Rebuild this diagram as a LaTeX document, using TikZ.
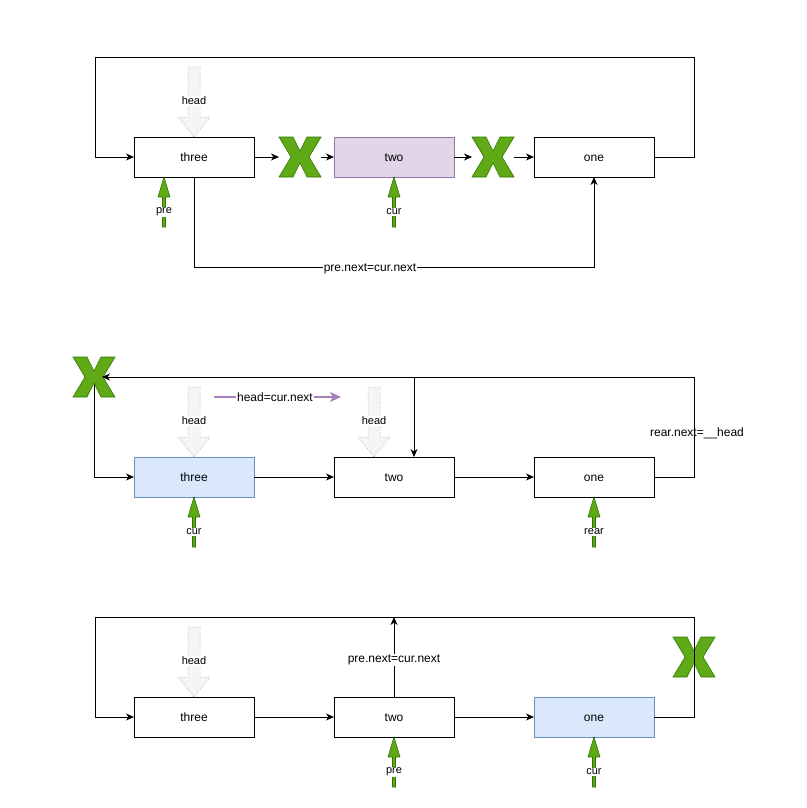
\documentclass[tikz,border=0pt]{standalone}
\usepackage{fontspec}
\setmainfont{Liberation Sans}
\usetikzlibrary{positioning}
\usetikzlibrary{arrows.meta}

\definecolor{xgreen}{HTML}{60A917}
\definecolor{xgreendark}{HTML}{2D7600}
\definecolor{nodepurple}{HTML}{E1D5E7}
\definecolor{linepurple}{HTML}{9673A6}
\definecolor{nodeblue}{HTML}{DAE8FC}
\definecolor{lineblue}{HTML}{6C8EBF}
\definecolor{ptrgray}{HTML}{F5F5F5}
\definecolor{ptrline}{HTML}{666666}
\definecolor{movepurple}{HTML}{A680B8}

\tikzset{
  box/.style={draw, line width=0.8pt, minimum width=120pt, minimum height=40pt,
    inner sep=0pt, outer sep=0pt, text height=10pt, text depth=2pt,
    font=\fontsize{12}{14}\selectfont},
  link/.style={line width=0.8pt, -{Stealth[length=8pt,width=7pt,inset=2.5pt]}},
  xspot/.style={minimum width=42pt, minimum height=40pt, inner sep=0pt, outer sep=0pt},
  cross/.style={fill=xgreen, draw=xgreendark, line width=0.6pt},
  tag/.style={fill=white, inner sep=1pt, font=\fontsize{11}{13}\selectfont},
  note/.style={inner sep=1pt, font=\fontsize{12}{14}\selectfont}
}

% green X over a node
\newcommand{\drawcross}[1]{%
  \begin{scope}[shift={(#1)}]
    \filldraw[cross] (-21,-20) -- (-7,-20) -- (0,-6) -- (7,-20) -- (21,-20)
      -- (9,0) -- (21,20) -- (7,20) -- (0,6) -- (-7,20) -- (-21,20) -- (-9,0) -- cycle;
  \end{scope}}

% dotted head pointer, tip at #1
\newcommand{\headptr}[2]{%
  \begin{scope}[shift={(#1)}]
    \filldraw[fill=ptrgray, draw=ptrline, dotted, line width=0.5pt]
      (0,0) -- (16,-20) -- (6,-20) -- (6,-70) -- (-6,-70) -- (-6,-20) -- (-16,-20) -- cycle;
    \node[tag] (#2) at (0,-36) {head};
  \end{scope}}

% green pointer, tip at #1
\newcommand{\greenptr}[3]{%
  \begin{scope}[shift={(#1)}]
    \filldraw[fill=xgreen, draw=xgreendark, line width=0.6pt]
      (0,0) -- (6,20) -- (1.5,20) -- (1.5,50) -- (-1.5,50) -- (-1.5,20) -- (-6,20) -- cycle;
    \node[tag] (#2) at (0,35) {#3};
  \end{scope}}

\begin{document}
\begin{tikzpicture}[x=1pt, y=-1pt, node distance=80pt]
  \useasboundingbox (0,0) rectangle (806,808);

  % first list: remove two
  \node[box] (threeA) at (194,157) {three};
  \node[box, fill=nodepurple, draw=linepurple] (twoA) [right=of threeA] {two};
  \node[box] (oneA) [right=of twoA] {one};
  \node[xspot] (xA1) at (300,157) {};
  \node[xspot] (xA2) at (493,157) {};
  \drawcross{xA1}
  \drawcross{xA2}
  \draw[link] (threeA) -- (xA1);
  \draw[link] (xA1) -- (twoA);
  \draw[link] (twoA) -- (xA2);
  \draw[link] (xA2) -- (oneA);
  \coordinate (cornerA) at (694,57);
  \draw[link] (oneA.east) -| (cornerA) -| (95,157) -- (threeA.west);
  \draw[link] (threeA.south) -- ++(0,90) coordinate (bendA)
    -- node[pos=0.44, fill=white, inner sep=1pt, font=\fontsize{12}{14}\selectfont, yshift=-2pt] (linkA) {pre.next=cur.next}
    (bendA -| oneA.south) -- (oneA.south);
  \headptr{threeA.north}{headA}
  \greenptr{[xshift=-30pt]threeA.south}{preA}{pre}
  \greenptr{twoA.south}{curA}{cur}

  % second list: remove three
  \node[box, fill=nodeblue, draw=lineblue] (threeB) at (194,477) {three};
  \node[box] (twoB) [right=of threeB] {two};
  \node[box] (oneB) [right=of twoB] {one};
  \node[xspot] (xB) at (94,377) {};
  \draw[link] (xB.center) |- (threeB.west);
  \drawcross{xB}
  \draw[link] (threeB) -- (twoB);
  \draw[link] (twoB) -- (oneB);
  \coordinate (cornerB) at (694,377);
  \coordinate (splitB) at (414,377);
  \draw[link] (oneB.east) -| (cornerB) -- ([xshift=8pt]xB.center);
  \draw[link] (splitB) -- ([xshift=20pt]twoB.north);
  \node[note] (rearB) at (697,433) {rear.next=\_\_head};
  \coordinate (moveB1) at (214,397);
  \coordinate (moveB2) at (341,397);
  \draw[movepurple, line width=1.6pt, -{Stealth[length=11pt,width=10pt,inset=3pt]}]
    (moveB1) -- (moveB2) node[pos=0.48, fill=white, text=black, inner sep=1pt,
    font=\fontsize{12}{14}\selectfont] (headB) {head=cur.next};
  \headptr{threeB.north}{headB1}
  \headptr{[xshift=-20pt]twoB.north}{headB2}
  \greenptr{threeB.south}{curB}{cur}
  \greenptr{oneB.south}{rearB2}{rear}

  % third list: remove one
  \node[box] (threeC) at (194,717) {three};
  \node[box] (twoC) [right=of threeC] {two};
  \node[box, fill=nodeblue, draw=lineblue] (oneC) [right=of twoC] {one};
  \node[xspot] (xC) at (694,657) {};
  \drawcross{xC}
  \draw[link] (threeC) -- (twoC);
  \draw[link] (twoC) -- (oneC);
  \coordinate (cornerC) at (694,617);
  \draw[link] (oneC.east) -| (cornerC) -| (95,717) -- (threeC.west);
  \draw[link] (twoC.north) -- (394,617)
    node[pos=0.5, fill=white, inner sep=1pt, font=\fontsize{12}{14}\selectfont, yshift=-3pt] (linkC) {pre.next=cur.next};
  \headptr{threeC.north}{headC}
  \greenptr{twoC.south}{preC}{pre}
  \greenptr{oneC.south}{curC}{cur}
\end{tikzpicture}
\end{document}
